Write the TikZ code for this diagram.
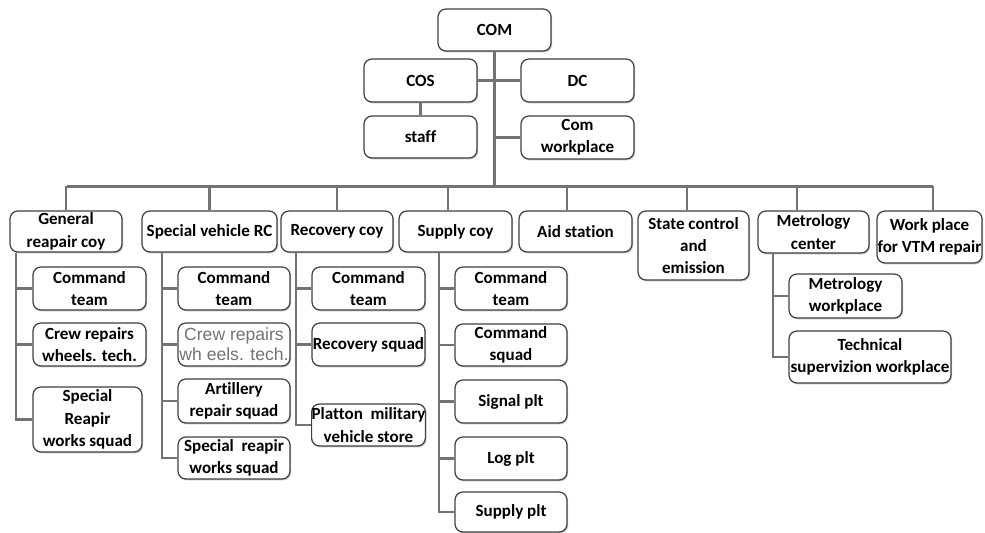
\documentclass[tikz,border=0pt]{standalone}
\usepackage{fontspec}
\setmainfont{Carlito}[Ligatures=NoCommon]
\newfontfamily\arialfont{Liberation Sans}
\usepackage{tikz}
\usetikzlibrary{shadows}

\begin{document}
\begin{tikzpicture}[
  unit/.style={rectangle, rounded corners=4.5pt, draw=black!75, line width=0.7pt, fill=white,
    drop shadow={shadow xshift=0.6pt, shadow yshift=-0.8pt, fill=black!45},
    inner sep=0pt, align=center, font=\bfseries\fontsize{9.7}{12.7}\selectfont},
  link/.style={draw=black!55, line width=1.2pt}
]
\useasboundingbox (0, 0) rectangle (19.7, -10.66);

% command level
\node [unit, minimum width=2.26cm, minimum height=0.84cm] (com) at (9.89, -0.60) {COM};
\node [unit, minimum width=2.26cm, minimum height=0.86cm] (cos) at (8.41, -1.61) {COS};
\node [unit, minimum width=2.26cm, minimum height=0.84cm] (staff) at (8.41, -2.74) {staff};
\node [unit, minimum width=2.26cm, minimum height=0.86cm] (dc) at (11.55, -1.61) {DC};
\node [unit, minimum width=2.26cm, minimum height=0.86cm] (cwp) at (11.55, -2.75) {Com\\workplace};

% companies
\node [unit, minimum width=2.24cm, minimum height=0.82cm] (gen) at (1.32, -4.63) {General\\reapair coy};
\node [unit, minimum width=2.70cm, minimum height=0.82cm] (svrc) at (4.19, -4.63) {Special vehicle RC};
\node [unit, minimum width=2.24cm, minimum height=0.82cm] (rec) at (6.74, -4.63) {Recovery coy};
\node [unit, minimum width=2.26cm, minimum height=0.82cm] (sup) at (9.11, -4.63) {Supply coy};
\node [unit, minimum width=2.26cm, minimum height=0.82cm] (aid) at (11.51, -4.63) {Aid station};
\node [unit, minimum width=2.22cm, minimum height=1.38cm] (stc) at (13.87, -4.91) {State control\\and\\emission};
\node [unit, minimum width=2.22cm, minimum height=0.84cm] (met) at (16.27, -4.64) {Metrology\\center};
\node [unit, minimum width=2.10cm, minimum height=1.04cm] (wvt) at (18.59, -4.74) {Work place\\for VTM repair};

% general reapair coy
\node [unit, minimum width=2.26cm, minimum height=0.86cm] (gct) at (1.79, -5.77) {Command\\team};
\node [unit, minimum width=2.26cm, minimum height=0.86cm] (gcrew) at (1.79, -6.89) {Crew repairs\\wheels. tech.};
\node [unit, minimum width=2.18cm, minimum height=1.30cm] (gspec) at (1.75, -8.39) {Special\\Reapir\\works squad};

% special vehicle RC
\node [unit, minimum width=2.24cm, minimum height=0.86cm] (sct) at (4.68, -5.77) {Command\\team};
\node [unit, minimum width=2.24cm, minimum height=0.86cm, font=\arialfont\fontsize{10}{11.5}\selectfont, text=black!55] (screw) at (4.68, -6.89) {Crew repairs\\wh eels. tech.};
\node [unit, minimum width=2.24cm, minimum height=0.88cm] (sart) at (4.68, -8.02) {Artillery\\repair squad};
\node [unit, minimum width=2.24cm, minimum height=0.84cm] (sspec) at (4.68, -9.16) {Special~~reapir\\works squad};

% recovery coy
\node [unit, minimum width=2.26cm, minimum height=0.86cm] (rct) at (7.37, -5.77) {Command\\team};
\node [unit, minimum width=2.26cm, minimum height=0.86cm] (rsq) at (7.37, -6.89) {Recovery squad};
\node [unit, minimum width=2.26cm, minimum height=0.84cm] (rplat) at (7.37, -8.50) {Platton~~military\\vehicle store};

% supply coy
\node [unit, minimum width=2.24cm, minimum height=0.86cm] (uct) at (10.22, -5.77) {Command\\team};
\node [unit, minimum width=2.24cm, minimum height=0.84cm] (ucs) at (10.22, -6.90) {Command\\squad};
\node [unit, minimum width=2.24cm, minimum height=0.86cm] (usig) at (10.22, -8.03) {Signal plt};
\node [unit, minimum width=2.24cm, minimum height=0.86cm] (ulog) at (10.22, -9.17) {Log plt};
\node [unit, minimum width=2.24cm, minimum height=0.80cm] (usup) at (10.22, -10.24) {Supply plt};

% metrology center
\node [unit, minimum width=2.26cm, minimum height=0.88cm] (mwp) at (16.91, -5.92) {Metrology\\workplace};
\node [unit, minimum width=3.24cm, minimum height=1.04cm] (mtech) at (17.40, -7.14) {Technical\\supervizion workplace};

% connectors
\coordinate (bus) at (9.89, -3.73);
\coordinate (busl) at (1.34, -3.73);
\coordinate (busr) at (18.66, -3.73);
\draw [link] (com) -- (bus);
\draw [link] (cos) -- (cos -| com);
\draw [link] (dc) -- (dc -| com);
\draw [link] (cwp) -- (cwp -| com);
\draw [link] (cos) -- (staff);
\draw [link] (busl) -- (busr);
\foreach \n/\s in {gen/0, svrc/0, rec/0, sup/-0.15, aid/-0.17, stc/-0.13, met/-0.33, wvt/0.07}
  \draw [link] ([xshift=\s cm]\n.north) coordinate (d\n) -- (d\n |- bus);
\foreach \c in {gct, gcrew, gspec}
  \draw [link] ([xshift=0.14cm]gen.south west) |- (\c.west);
\foreach \c in {sct, screw, sart, sspec}
  \draw [link] ([xshift=0.42cm]svrc.south west) |- (\c.west);
\foreach \c in {rct, rsq, rplat}
  \draw [link] ([xshift=0.32cm]rec.south west) |- (\c.west);
\foreach \c in {uct, ucs, usig, ulog, usup}
  \draw [link] ([xshift=0.82cm]sup.south west) |- (\c.west);
\foreach \c in {mwp, mtech}
  \draw [link] ([xshift=0.32cm]met.south west) |- (\c.west);
\end{tikzpicture}
\end{document}
